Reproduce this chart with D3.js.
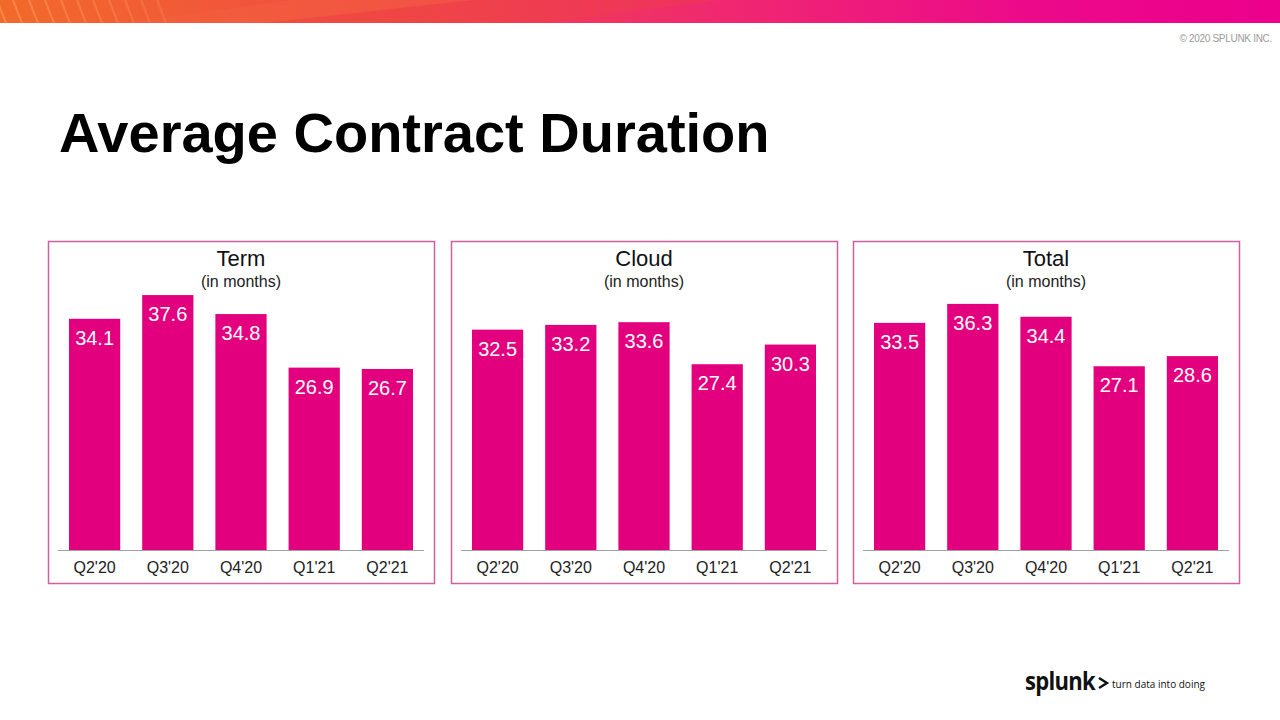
<!DOCTYPE html>
<html>
<head>
<meta charset="utf-8">
<script src="https://cdn.jsdelivr.net/npm/d3@7"></script>
<style>
  html, body { margin: 0; padding: 0; background: #fff; }
  svg { display: block; font-family: "Liberation Sans", Arial, sans-serif; }
</style>
</head>
<body>
<svg id="chart" width="1280" height="720"></svg>
<script>
const categories = ["Q2'20", "Q3'20", "Q4'20", "Q1'21", "Q2'21"];
const termValues = [34.1, 37.6, 34.8, 26.9, 26.7];
const cloudValues = [32.5, 33.2, 33.6, 27.4, 30.3];
const totalValues = [33.5, 36.3, 34.4, 27.1, 28.6];
const panelTitles = ["Term", "Cloud", "Total"];
const panelSubtitle = "(in months)";
const chartTitle = "Average Contract Duration";

const svg = d3.select("#chart");

// Banner
const defs = svg.append("defs");
const grad = defs.append("linearGradient").attr("id", "banner").attr("x1", "0").attr("x2", "1");
grad.append("stop").attr("offset", "0").attr("stop-color", "#f26a2a");
grad.append("stop").attr("offset", "0.3").attr("stop-color", "#f04a45");
grad.append("stop").attr("offset", "0.55").attr("stop-color", "#f02a6e");
grad.append("stop").attr("offset", "0.8").attr("stop-color", "#ec0a8a");
grad.append("stop").attr("offset", "1").attr("stop-color", "#ec008c");
svg.append("rect").attr("x", 0).attr("y", 0).attr("width", 1280).attr("height", 23).attr("fill", "url(#banner)");
const clip = defs.append("clipPath").attr("id", "bannerClip");
clip.append("rect").attr("x", 0).attr("y", 0).attr("width", 1280).attr("height", 23);
const bannerG = svg.append("g").attr("clip-path", "url(#bannerClip)");
bannerG.append("path").attr("d", "M120,23 L330,-5 L520,-5 L270,23 Z").attr("fill", "#f46040").attr("opacity", 0.5);
bannerG.append("path").attr("d", "M260,23 L520,-5 L760,-5 L540,23 Z").attr("fill", "#ee4242").attr("opacity", 0.35);
for (let i = 0; i < 11; i++) {
  const x0 = 6 + i * 16;
  bannerG.append("line").attr("x1", x0).attr("y1", 23).attr("x2", x0 - 9).attr("y2", 0)
    .attr("stroke", "#ffa060").attr("stroke-width", 2).attr("opacity", 0.55 - i * 0.03);
}

// Copyright
svg.append("text").attr("x", 1272).attr("y", 42).attr("text-anchor", "end")
  .attr("font-size", 10).attr("fill", "#9a9a9a").attr("letter-spacing", -0.3).text("© 2020 SPLUNK INC.");

// Title
svg.append("text").attr("x", 59).attr("y", 152).attr("font-size", 56).attr("font-weight", "bold")
  .attr("fill", "#000").text(chartTitle);

// Panels
const panels = [
  { title: panelTitles[0], values: termValues, x: 48 },
  { title: panelTitles[1], values: cloudValues, x: 451 },
  { title: panelTitles[2], values: totalValues, x: 853 }
];
const panelW = 386, panelTop = 241, panelH = 342;
const baseY = 550;
const y = d3.scaleLinear().domain([0, 40]).range([baseY, baseY - 271.2]);

panels.forEach(p => {
  const g = svg.append("g");
  g.append("rect").attr("x", p.x + 0.5).attr("y", panelTop + 0.5).attr("width", panelW).attr("height", panelH)
    .attr("fill", "#fff").attr("stroke", "#cf5fa0").attr("stroke-width", 1.5);
  const cx = p.x + panelW / 2;
  g.append("text").attr("x", cx).attr("y", 266).attr("text-anchor", "middle")
    .attr("font-size", 22).attr("fill", "#111").text(p.title);
  g.append("text").attr("x", cx).attr("y", 287).attr("text-anchor", "middle")
    .attr("font-size", 16).attr("fill", "#222").text(panelSubtitle);

  const x = d3.scaleBand().domain(categories).range([p.x + 10, p.x + 376]).paddingInner(0.3).paddingOuter(0.15);
  const data = categories.map((c, i) => ({ c, v: p.values[i] }));

  g.selectAll("rect.bar").data(data).join("rect").attr("class", "bar")
    .attr("x", d => x(d.c)).attr("y", d => y(d.v))
    .attr("width", x.bandwidth()).attr("height", d => y(0) - y(d.v))
    .attr("fill", "#e2007e");

  g.selectAll("text.val").data(data).join("text").attr("class", "val")
    .attr("x", d => x(d.c) + x.bandwidth() / 2).attr("y", d => y(d.v) + 26)
    .attr("text-anchor", "middle").attr("font-size", 20).attr("fill", "#fff")
    .text(d => d.v.toFixed(1));

  const axis = d3.axisBottom(x).tickSize(0).tickPadding(12);
  const ax = g.append("g").attr("transform", `translate(0,${baseY})`).call(axis);
  ax.select(".domain").attr("stroke", "#a0a0a0").attr("stroke-width", 1)
    .attr("d", `M${p.x + 10},0.5H${p.x + 376}`);
  ax.selectAll("text").attr("font-size", 16).attr("fill", "#222")
    .attr("font-family", "'Liberation Sans', Arial, sans-serif");
});

// Splunk logo
const logo = svg.append("g");
const sp = logo.append("text").attr("x", 1025).attr("y", 690).attr("font-size", 25).attr("font-weight", "bold")
  .attr("font-family", "'Open Sans', sans-serif").attr("fill", "#111").attr("letter-spacing", -0.8).text("splunk");
const spW = sp.node().getComputedTextLength();
const sx = 1025 + Math.min(spW, 72);
if (spW > 72) sp.attr("textLength", 70).attr("lengthAdjust", "spacingAndGlyphs");
logo.append("path").attr("d", `M${sx + 2},678 L${sx + 10},683 L${sx + 2},688`)
  .attr("fill", "none").attr("stroke", "#111").attr("stroke-width", 2.4);
logo.append("text").attr("x", sx + 15).attr("y", 688).attr("font-size", 10)
  .attr("font-family", "'Open Sans', sans-serif").attr("fill", "#111").text("turn data into doing");
</script>
</body>
</html>
